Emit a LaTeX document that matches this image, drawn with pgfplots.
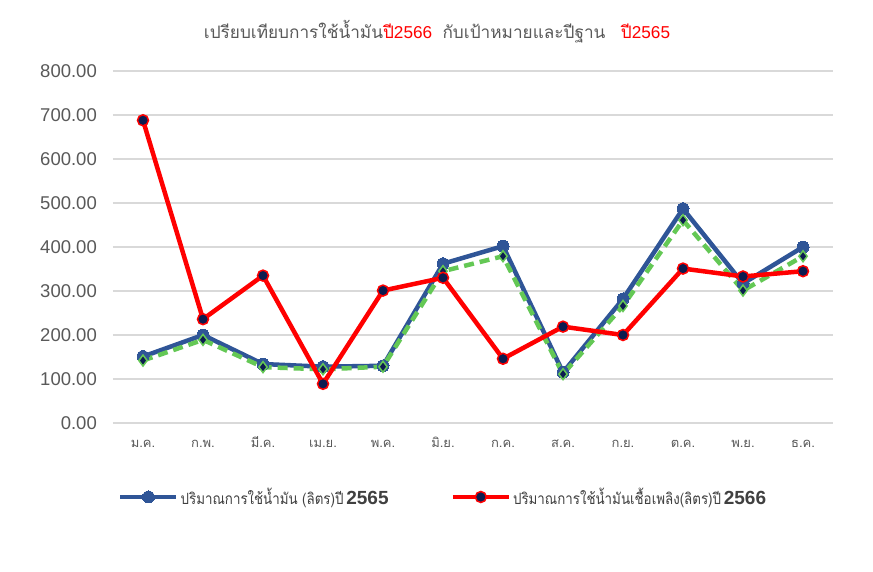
\documentclass[border=0pt]{standalone}
\usepackage{pgfplots}
\pgfplotsset{compat=1.18}
\usepackage{fontspec}
\setmainfont{Liberation Sans}
\newfontfamily\thai[Script=Thai]{Loma}
\newfontfamily\thaicond[Script=Thai, FakeStretch=0.86]{Loma}
\definecolor{lblue}{RGB}{47,85,151}
\definecolor{lred}{RGB}{255,0,0}
\definecolor{lgreen}{RGB}{100,200,85}
\definecolor{navy}{RGB}{12,28,80}
\definecolor{tgray}{RGB}{89,89,89}
\definecolor{lgray}{RGB}{64,64,64}
\definecolor{gridc}{RGB}{217,217,217}
\begin{document}
\begin{tikzpicture}
\useasboundingbox[fill=white] (0,0) rectangle (873pt,571pt);
\begin{axis}[
  at={(113pt,148pt)}, anchor=south west,
  scale only axis, width=720pt, height=352pt,
  xmin=-0.5, xmax=11.5, ymin=0, ymax=800,
  ytick={0,100,...,800},
  xtick=data,
  xticklabels={ม.ค.,ก.พ.,มี.ค.,เม.ย.,พ.ค.,มิ.ย.,ก.ค.,ส.ค.,ก.ย.,ต.ค.,พ.ย.,ธ.ค.},
  axis line style={draw=none},
  major tick length=0pt,
  xmajorgrids=false, ymajorgrids=true,
  major grid style={draw=gridc, line width=1.5pt},
  yticklabel style={anchor=east, inner sep=0pt, xshift=-16pt, font=\fontsize{18.5}{20}\selectfont, text=tgray},
  xticklabel style={anchor=base, inner sep=0pt, yshift=-24pt, font=\thai\fontsize{13}{14}\selectfont, text=tgray},
  /pgf/number format/assume math mode=true,
  yticklabel={\pgfmathprintnumber[fixed, fixed zerofill, precision=2]{\tick}},
  legend columns=2,
  legend style={draw=none, fill=none, inner sep=0pt, anchor=west, at={(0.00694,-0.2102)},
    nodes={inner sep=2pt, text=lgray}},
  legend cell align=left,
  legend image code/.code={\draw[mark repeat=2,mark phase=2,#1] plot coordinates {(0pt,0pt) (28pt,0pt) (56pt,0pt)};},
]
\addplot[lblue, line width=4.5pt, mark=*, mark size=6pt, mark options={solid, fill=lblue, draw=lblue, line width=0pt}]
  coordinates {(0,151) (1,200) (2,134) (3,128) (4,130) (5,362) (6,402) (7,115) (8,282) (9,487) (10,317) (11,400)};
\addlegendentry{{\thaicond\fontsize{15.5}{16}\selectfont ปริมาณการใช้น้ำมัน (ลิตร)ปี} {\bfseries\fontsize{19}{19}\selectfont 2565}\hspace*{60pt}}
\addplot[forget plot, lgreen, line width=4.5pt, dash pattern=on 10pt off 6pt, mark=diamond*, mark size=5.5pt, mark options={solid, fill=navy, draw=lgreen, line width=1.5pt}]
  coordinates {(0,142) (1,189) (2,127) (3,122) (4,128) (5,345) (6,379) (7,111) (8,266) (9,461) (10,301) (11,379)};
\addplot[lred, line width=4.5pt, mark=*, mark size=5.5pt, mark options={solid, fill=navy, draw=lred, line width=1.5pt}]
  coordinates {(0,688) (1,236) (2,335) (3,89) (4,301) (5,330) (6,146) (7,219) (8,200) (9,351) (10,333) (11,345)};
\addlegendentry{{\thaicond\fontsize{15.5}{16}\selectfont ปริมาณการใช้น้ำมันเชื้อเพลิง(ลิตร)ปี} {\bfseries\fontsize{19}{19}\selectfont 2566}}
\end{axis}
\node[text=tgray, font=\fontsize{17.2}{19}\selectfont] at (437pt,539pt)
  {{\thai เปรียบเทียบการใช้น้ำมัน}\textcolor{lred}{{\thai ปี}2566}\hspace{0.6em}{\thai กับเป้าหมายและปีฐาน}\hspace{0.9em}\textcolor{lred}{{\thai ปี}2565}};
\end{tikzpicture}
\end{document}
